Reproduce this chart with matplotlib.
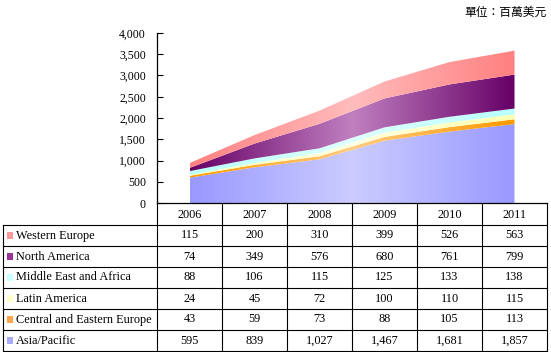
import matplotlib.pyplot as plt
import numpy as np
from matplotlib.colors import LinearSegmentedColormap
from matplotlib.lines import Line2D
from matplotlib.patches import Rectangle

years = ['2006', '2007', '2008', '2009', '2010', '2011']
regions = ['Western Europe', 'North America', 'Middle East and Africa',
           'Latin America', 'Central and Eastern Europe', 'Asia/Pacific']
western_europe = [115, 200, 310, 399, 526, 563]
north_america = [74, 349, 576, 680, 761, 799]
middle_east_africa = [88, 106, 115, 125, 133, 138]
latin_america = [24, 45, 72, 100, 110, 115]
central_eastern_europe = [43, 59, 73, 88, 105, 113]
asia_pacific = [595, 839, 1027, 1467, 1681, 1857]

series = [western_europe, north_america, middle_east_africa,
          latin_america, central_eastern_europe, asia_pacific]
# (edge colour, centre colour) for the horizontal gradient, same order as regions
fills = [('#ff8080', '#ffbcbc'), ('#660066', '#c080c0'), ('#b8ffff', '#e0ffff'),
         ('#ffffb0', '#ffffe0'), ('#ff9900', '#ffcc80'), ('#9999ff', '#ccccff')]
swatches = ['#ff9999', '#993399', '#ccffff', '#ffffcc', '#ffa64d', '#aaaaff']

W, H = 551, 352
fig = plt.figure(figsize=(W / 100, H / 100), dpi=100)

def fx(px):
    return px / W

def fy(py):
    return 1 - py / H

ax_left, ax_right, ax_top, ax_bottom = 157, 547, 33, 203
ax = fig.add_axes([fx(ax_left), fy(ax_bottom), fx(ax_right - ax_left), fy(ax_top) - fy(ax_bottom)])

x = np.arange(len(years))
ymax = 4000
lower = np.zeros(len(years))
# stack from bottom: Asia/Pacific first
for vals, (edge, centre) in zip(series[::-1], fills[::-1]):
    upper = lower + np.array(vals)
    poly = ax.fill_between(x, lower, upper, color='none', lw=0)
    cmap = LinearSegmentedColormap.from_list('g', [edge, centre, edge])
    grad = np.linspace(0, 1, 256).reshape(1, -1)
    im = ax.imshow(grad, extent=[x[0], x[-1], 0, ymax], aspect='auto', cmap=cmap,
                   origin='lower', interpolation='bilinear')
    im.set_clip_path(poly.get_paths()[0], transform=ax.transData)
    lower = upper

ax.set_xlim(-0.5, len(years) - 0.5)
ax.set_ylim(0, ymax)
ax.set_yticks(range(0, 4001, 500))
ax.set_yticklabels([f'{v:,}' for v in range(0, 4001, 500)], family='Liberation Serif', fontsize=8.5)
ax.tick_params(axis='y', direction='in', length=4, width=0.8, pad=8)
ax.set_xticks([])
for s in ['top', 'right']:
    ax.spines[s].set_visible(False)
ax.spines['left'].set_linewidth(0.9)
ax.spines['bottom'].set_linewidth(0.9)
ax.patch.set_alpha(0)

# unit label
fig.text(fx(547), fy(12), '單位：百萬美元', family='Noto Sans CJK TC', fontsize=8.5,
         ha='right', va='center', weight='medium')

# data table under the chart
col_w = (ax_right - ax_left) / len(years)
row_top = 225
row_h = 21
tab_left = 3
n_rows = len(regions)
tab_bottom = row_top + row_h * n_rows

def hline(py, x0, x1):
    fig.add_artist(Line2D([fx(x0), fx(x1)], [fy(py), fy(py)], color='black', lw=0.8))

def vline(px, y0, y1):
    fig.add_artist(Line2D([fx(px), fx(px)], [fy(y0), fy(y1)], color='black', lw=0.8))

for i in range(n_rows + 1):
    hline(row_top + i * row_h, tab_left, ax_right)
vline(tab_left, row_top, tab_bottom)
for j in range(len(years) + 1):
    vline(ax_left + j * col_w, ax_bottom, tab_bottom)

font = dict(family='Liberation Serif', fontsize=8.8)
for j, yr in enumerate(years):
    fig.text(fx(ax_left + (j + 0.5) * col_w), fy((ax_bottom + row_top) / 2 + 1), yr,
             ha='center', va='center', **font)

for i, (name, vals) in enumerate(zip(regions, series)):
    cy = row_top + (i + 0.5) * row_h
    fig.add_artist(Rectangle((fx(7), fy(cy + 3.5)), fx(6), fy(cy - 3.5) - fy(cy + 3.5),
                             color=swatches[i], lw=0))
    fig.text(fx(16), fy(cy), name, ha='left', va='center', **font)
    for j, v in enumerate(vals):
        fig.text(fx(ax_left + (j + 0.5) * col_w), fy(cy), f'{v:,}',
                 ha='center', va='center', **font)

fig.savefig('out.png', dpi=100)
